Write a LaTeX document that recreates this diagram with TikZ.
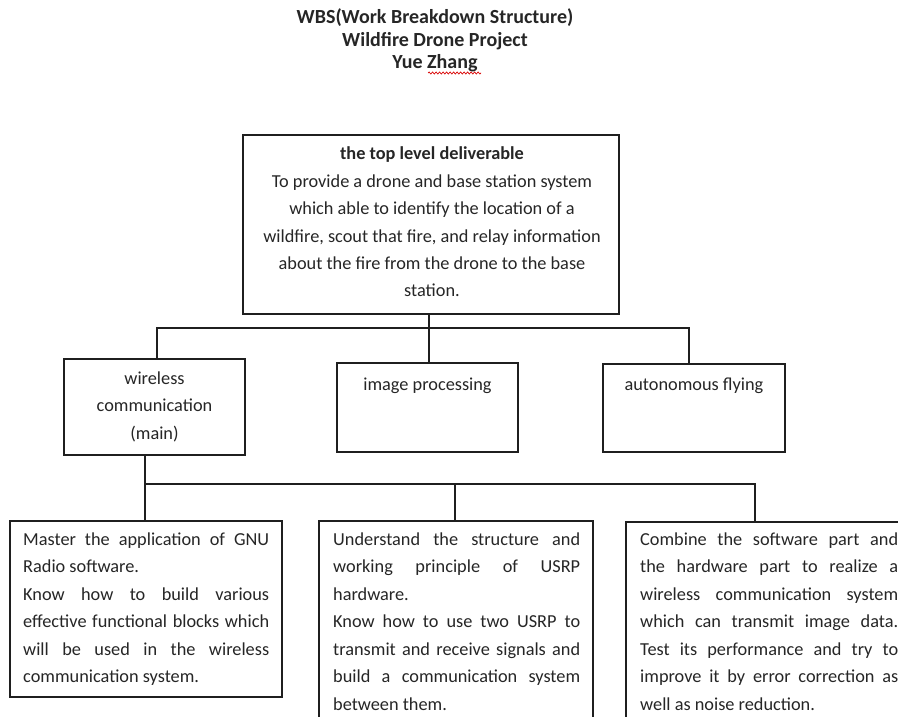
\documentclass[tikz,border=0pt]{standalone}
\usepackage{fontspec}
\setmainfont{Carlito}
\usetikzlibrary{decorations.pathmorphing}
\begin{document}
\begin{tikzpicture}[x=1pt,y=-1pt,
  box/.style={draw=black!88, line width=1.2pt, rectangle, inner sep=0pt},
  txt/.style={anchor=base, inner sep=0pt, text=black!85},
  link/.style={draw=black!88, line width=1.2pt}]
\fill[white] (0,0) rectangle (898,717);
\clip (0,0) rectangle (898,717);
\useasboundingbox (0,0) rectangle (898,717);

% title
\node[txt] (title) at (435,24) {\parbox[t]{400pt}{\centering\fontsize{20}{22.5}\selectfont\bfseries
  WBS(Work Breakdown Structure)\\ Wildfire Drone Project\\ Yue Zhang}};
\draw[red!85!black, line width=0.7pt, decorate, decoration={snake, amplitude=1pt, segment length=3.5pt}] (428,73) -- (481,73);

% boxes
\node[box, minimum width=376pt, minimum height=179pt] (top) at (431,224.5) {};
\node[box, minimum width=181pt, minimum height=96pt] (wl) at (154.5,407) {};
\node[box, minimum width=181pt, minimum height=89pt] (ip) at (427.5,407.5) {};
\node[box, minimum width=182pt, minimum height=88pt] (af) at (694,408) {};
\node[box, minimum width=272pt, minimum height=176pt] (b1) at (146,609) {};
\node[box, minimum width=274pt, minimum height=210pt] (b2) at (456,626) {};
\node[box, minimum width=290pt, minimum height=210pt] (b3) at (771,627) {};

% texts
\node[txt] (ttop) at (432,160) {\parbox[t]{370pt}{\centering\fontsize{18.3}{27.4}\selectfont
  \textbf{the top level deliverable}\\
  To provide a drone and base station system\\
  which able to identify the location of a\\
  wildfire, scout that fire, and relay information\\
  about the fire from the drone to the base\\
  station.}};
\node[txt] (twl) at (154.5,384) {\parbox[t]{175pt}{\centering\fontsize{18.3}{27.5}\selectfont
  wireless\\ communication\\ (main)}};
\node[txt] (tip) at (427.5,390) {\fontsize{18.3}{27.5}\selectfont image processing};
\node[txt] (taf) at (694,390) {\fontsize{18.3}{27.5}\selectfont autonomous flying};

\node[txt, anchor=base west] (tb1) at (23,545) {\parbox[t]{246pt}{\fontsize{18.3}{27.5}\selectfont
  \makebox[246pt][s]{Master the application of GNU}\\
  Radio software.\\
  \makebox[246pt][s]{Know how to build various}\\
  \makebox[246pt][s]{effective functional blocks which}\\
  \makebox[246pt][s]{will be used in the wireless}\\
  communication system.}};
\node[txt, anchor=base west] (tb2) at (333,545) {\parbox[t]{247pt}{\fontsize{18.3}{27.5}\selectfont
  \makebox[247pt][s]{Understand the structure and}\\
  \makebox[247pt][s]{working principle of USRP}\\
  hardware.\\
  \makebox[247pt][s]{Know how to use two USRP to}\\
  \makebox[247pt][s]{transmit and receive signals and}\\
  \makebox[247pt][s]{build a communication system}\\
  between them.}};
\node[txt, anchor=base west] (tb3) at (640,545) {\parbox[t]{258pt}{\fontsize{18.3}{27.5}\selectfont
  \makebox[258pt][s]{Combine the software part and}\\
  \makebox[258pt][s]{the hardware part to realize a}\\
  \makebox[258pt][s]{wireless communication system}\\
  \makebox[258pt][s]{which can transmit image data.}\\
  \makebox[258pt][s]{Test its performance and try to}\\
  \makebox[258pt][s]{improve it by error correction as}\\
  well as noise reduction.}};

% connectors
\coordinate (j1l) at (157,328);
\coordinate (j1r) at (689,328);
\coordinate (j2l) at (145,484);
\coordinate (j2m) at (455,484);
\coordinate (j2r) at (755,484);
\draw[link] (top.south -| 429,0) -- (ip.north -| 429,0);
\draw[link] (j1l |- wl.north) -- (j1l) -- (j1r) -- (j1r |- af.north);
\draw[link] (j2l |- wl.south) -- (j2l |- b1.north);
\draw[link] (j2l) -- (j2r) -- (j2r |- b3.north);
\draw[link] (j2m) -- (j2m |- b2.north);
\end{tikzpicture}
\end{document}
